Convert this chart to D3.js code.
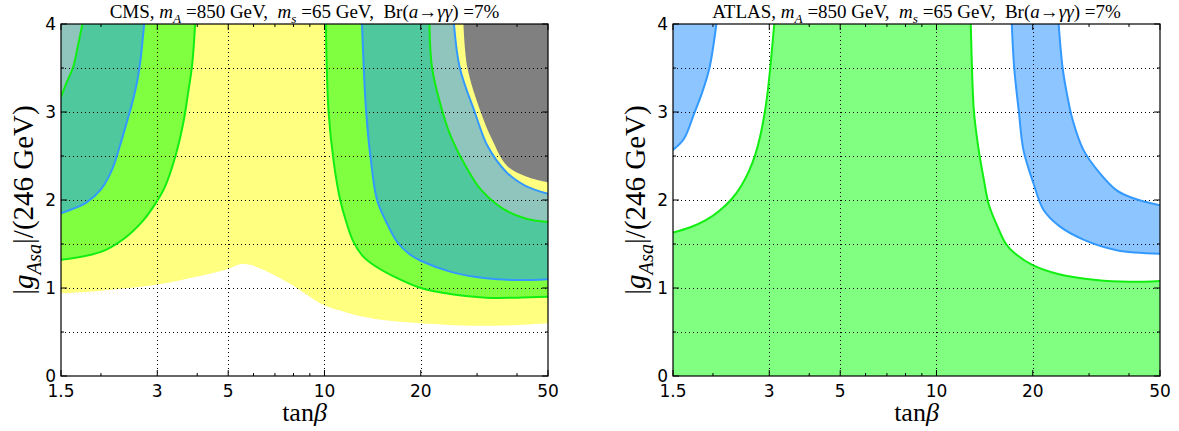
<!DOCTYPE html>
<html>
<head>
<meta charset="utf-8">
<script src="https://cdn.jsdelivr.net/npm/d3@7"></script>
<style>
body { margin: 0; background: #fff; }
svg { display: block; }
text { white-space: pre; }
</style>
</head>
<body>
<svg id="chart" width="1179" height="431"></svg>
<script>
// tick values
var xTicks = [1.5, 3, 5, 10, 20, 50];
var xMinor = [2, 4, 6, 7, 8, 9, 30, 40];
var yTicks = [0, 1, 2, 3, 4];
var yMinor = [0.5, 1.5, 2.5, 3.5];

// CMS panel, points are [tanB, g]
var cmsYellowLow = [[1.5, 0.94], [2, 0.97], [3, 1.04], [4, 1.13], [5, 1.22], [5.45, 1.27], [5.9, 1.26], [6.4, 1.21],
	[7.2, 1.12], [7.95, 1.03], [9, 0.9], [10, 0.8], [11.5, 0.73], [12.6, 0.69], [15, 0.64], [20, 0.6], [30, 0.57], [40, 0.58], [50, 0.6]];
var cmsGreenLeft = [[1.5, 1.32], [2.0, 1.41], [2.36, 1.56], [2.7, 1.76], [2.95, 1.95], [3.17, 2.15], [3.42, 2.5], [3.62, 2.88], [3.74, 3.2], [3.86, 3.55], [3.94, 4]];
var cmsBlueLeft = [[1.5, 1.85], [1.8, 1.97], [2.0, 2.12], [2.17, 2.35], [2.29, 2.61], [2.42, 2.91], [2.52, 3.14], [2.6, 3.36], [2.66, 3.6], [2.73, 4]];
var cmsGreenLeftOuter = [[1.5, 3.17], [1.56, 3.33], [1.64, 3.52], [1.7, 3.78], [1.75, 4]];
var cmsGreenRight = [[10.1, 4], [10.3, 3], [10.7, 2.42], [11.2, 2.0], [11.7, 1.75], [12.3, 1.53], [13.2, 1.36], [14.4, 1.25], [16.5, 1.13], [20, 1.0], [25, 0.93], [32, 0.89], [40, 0.89], [50, 0.9]];
var cmsBlueRight = [[13.1, 4], [13.5, 3], [14.0, 2.42], [14.6, 2.0], [15.6, 1.75], [16.9, 1.52], [18.5, 1.38], [20, 1.31], [25, 1.18], [32, 1.11], [40, 1.09], [50, 1.1]];
var cmsGreenRightOuter = [[21.3, 4], [21.7, 3.5], [23.4, 3], [24.8, 2.73], [27.6, 2.39], [30.8, 2.12], [36.2, 1.9], [42.5, 1.79], [50, 1.75]];
var cmsBlueRightOuter = [[25.4, 4], [26.5, 3.5], [29.5, 3.0], [32.4, 2.61], [37.2, 2.31], [42.5, 2.16], [50, 2.07]];
var cmsGrayEdge = [[27.2, 4], [28, 3.5], [30.8, 3.0], [33.4, 2.69], [37.2, 2.39], [42.5, 2.27], [50, 2.2]];

// ATLAS panel
var atlasGreenLeft = [[1.5, 1.63], [1.7, 1.69], [1.9, 1.77], [2.1, 1.88], [2.3, 2.02], [2.45, 2.16], [2.6, 2.34], [2.72, 2.53], [2.82, 2.75], [2.9, 2.98], [2.97, 3.25], [3.03, 3.55], [3.11, 4]];
var atlasGreenRight = [[12.8, 4], [12.95, 3.36], [13.1, 3.0], [13.5, 2.61], [14.05, 2.24], [14.6, 1.94], [15.6, 1.68], [16.5, 1.5], [17.5, 1.4], [20, 1.26], [24, 1.16], [31.6, 1.09], [40, 1.07], [50, 1.08]];
var atlasBlueLeft = [[1.5, 2.57], [1.62, 2.69], [1.75, 2.99], [1.85, 3.22], [1.95, 3.5], [2.05, 4]];
var atlasBlueOuter = [[17.2, 4], [17.5, 3.5], [18.1, 3.0], [18.7, 2.57], [20.1, 2.19], [21.6, 1.89], [24.3, 1.7], [28.8, 1.55], [36.6, 1.43], [50, 1.39]];
var atlasBlueInner = [[24.1, 4], [24.8, 3.5], [25.6, 3.2], [26.7, 2.9], [28.8, 2.57], [32.5, 2.3], [36.6, 2.11], [41.3, 2.02], [50, 1.94]];

var W = 487, H = 352, TOP = 24;
var green = '#11ee11', blue = '#3399ff';

var svg = d3.select('#chart');
svg.append('rect').attr('width', 1179).attr('height', 431).attr('fill', '#fff');

// text with italic / subscript parts
var richText = function(sel, parts, size)
{
	var shifted = 0;
	parts.forEach((p) => {
		var ts = sel.append('tspan').text(p.t);
		if (p.i) ts.attr('font-style', 'italic');
		var want = p.sub ? size * 0.28 : 0;
		if (want !== shifted) { ts.attr('dy', want - shifted); shifted = want; }
		if (p.sub) ts.attr('font-size', size * 0.7);
	});
	return sel;
};

var drawPanel = function(left, titleParts, build)
{
	var g = svg.append('g').attr('transform', `translate(${left},${TOP})`);
	var x = d3.scaleLog().domain([1.5, 50]).range([0, W]);
	var y = d3.scaleLinear().domain([0, 4]).range([H, 0]);
	var id = 'clip' + left;
	svg.append('clipPath').attr('id', id).append('rect').attr('width', W).attr('height', H);

	var line = d3.line().x((d) => x(d[0])).y((d) => y(d[1])).curve(d3.curveCatmullRom.alpha(0.5));
	var seg = (pts) => line(pts).replace(/^M/, 'L');
	var pt = (a, b) => `L${x(a)},${y(b)}`;
	var start = (a, b) => `M${x(a)},${y(b)}`;

	var plot = g.append('g').attr('clip-path', `url(#${id})`);
	var spec = build({ line, seg, pt, start });

	// fills
	plot.selectAll('path.fill').data(spec.fills).enter().append('path')
		.attr('class', 'fill').attr('d', (d) => d.d).attr('fill', (d) => d.c).attr('stroke', 'none');

	// grid
	var grid = plot.append('g').attr('stroke', '#000').attr('stroke-width', 1).attr('stroke-dasharray', '1,3');
	grid.selectAll('line.v').data([3, 5, 10, 20]).enter().append('line').attr('class', 'v')
		.attr('x1', (d) => Math.round(x(d)) + 0.5).attr('x2', (d) => Math.round(x(d)) + 0.5).attr('y1', 0).attr('y2', H);
	grid.selectAll('line.h').data([0.5, 1, 1.5, 2, 2.5, 3, 3.5]).enter().append('line').attr('class', 'h')
		.attr('y1', (d) => Math.round(y(d)) + 0.5).attr('y2', (d) => Math.round(y(d)) + 0.5).attr('x1', 0).attr('x2', W);

	// contour lines
	plot.selectAll('path.edge').data(spec.lines).enter().append('path')
		.attr('class', 'edge').attr('d', (d) => line(d.p)).attr('fill', 'none')
		.attr('stroke', (d) => d.c).attr('stroke-width', 2);

	// frame + inward ticks on all sides
	g.append('rect').attr('width', W).attr('height', H).attr('fill', 'none').attr('stroke', '#000').attr('stroke-width', 1.2);
	var ticks = g.append('g').attr('stroke', '#000').attr('stroke-width', 1);
	var xt = xTicks.map((v) => [v, 6]).concat(xMinor.map((v) => [v, 3]));
	xt.forEach((t) => {
		ticks.append('line').attr('x1', x(t[0])).attr('x2', x(t[0])).attr('y1', H).attr('y2', H - t[1]);
		ticks.append('line').attr('x1', x(t[0])).attr('x2', x(t[0])).attr('y1', 0).attr('y2', t[1]);
	});
	var yt = yTicks.map((v) => [v, 6]).concat(yMinor.map((v) => [v, 3]));
	yt.forEach((t) => {
		ticks.append('line').attr('y1', y(t[0])).attr('y2', y(t[0])).attr('x1', 0).attr('x2', t[1]);
		ticks.append('line').attr('y1', y(t[0])).attr('y2', y(t[0])).attr('x1', W).attr('x2', W - t[1]);
	});

	// tick labels
	g.selectAll('text.xl').data(xTicks).enter().append('text').attr('class', 'xl')
		.attr('x', (d) => x(d)).attr('y', H + 21).attr('text-anchor', 'middle')
		.attr('font-family', 'DejaVu Sans').attr('font-size', 17).text((d) => d);
	g.selectAll('text.yl').data(yTicks).enter().append('text').attr('class', 'yl')
		.attr('x', -5).attr('y', (d) => y(d)).attr('dy', '0.36em').attr('text-anchor', 'end')
		.attr('font-family', 'DejaVu Sans').attr('font-size', 17).text((d) => d);

	// title and axis labels
	richText(g.append('text').attr('x', W / 2).attr('y', -6).attr('text-anchor', 'middle')
		.attr('font-family', 'Liberation Serif').attr('font-size', 19).attr('xml:space', 'preserve'), titleParts, 19);
	richText(g.append('text').attr('x', W / 2).attr('y', H + 45).attr('text-anchor', 'middle')
		.attr('font-family', 'Liberation Serif').attr('font-size', 26),
		[{ t: 'tan' }, { t: 'β', i: 1 }], 26);
	richText(g.append('text').attr('transform', `translate(-28,${H / 2}) rotate(-90)`).attr('text-anchor', 'middle')
		.attr('font-family', 'Liberation Serif').attr('font-size', 29),
		[{ t: '|' }, { t: 'g', i: 1 }, { t: 'Asa', i: 1, sub: 1 }, { t: '|/(246 GeV)' }], 29);
};

var tail = () => [{ t: ', ' }, { t: 'm', i: 1 }, { t: 'A', i: 1, sub: 1 }, { t: ' =850 GeV,  ' }, { t: 'm', i: 1 }, { t: 's', i: 1, sub: 1 },
	{ t: ' =65 GeV,  Br(' }, { t: 'a', i: 1 }, { t: '→' }, { t: 'γγ', i: 1 }, { t: ') =7%' }];

drawPanel(61, [{ t: 'CMS' }].concat(tail()), (h) => {
	var capL = (pts) => h.line(pts) + h.pt(1.5, 4) + 'Z';
	var capR = (pts) => h.line(pts) + h.pt(50, 4) + 'Z';
	return {
		fills: [
			{ c: '#ffff80', d: h.line(cmsYellowLow) + h.pt(50, 4) + h.pt(1.5, 4) + 'Z' },
			{ c: '#80ff40', d: capL(cmsGreenLeft) },
			{ c: '#80ff40', d: capR(cmsGreenRight) },
			{ c: '#4fc89e', d: capL(cmsBlueLeft) },
			{ c: '#4fc89e', d: capR(cmsBlueRight) },
			{ c: '#8fc5bd', d: capL(cmsGreenLeftOuter) },
			{ c: '#8fc5bd', d: capR(cmsGreenRightOuter) },
			{ c: '#ffff80', d: capR(cmsBlueRightOuter) },
			{ c: '#808080', d: capR(cmsGrayEdge) }
		],
		lines: [
			{ c: green, p: cmsGreenLeft }, { c: green, p: cmsGreenRight },
			{ c: green, p: cmsGreenLeftOuter }, { c: green, p: cmsGreenRightOuter },
			{ c: blue, p: cmsBlueLeft }, { c: blue, p: cmsBlueRight }, { c: blue, p: cmsBlueRightOuter }
		]
	};
});

drawPanel(673, [{ t: 'ATLAS' }].concat(tail()), (h) => {
	return {
		fills: [
			{ c: '#80ff80', d: h.start(1.5, 0) + h.seg(atlasGreenLeft) + h.seg(atlasGreenRight) + h.pt(50, 0) + 'Z' },
			{ c: '#8cc5ff', d: h.line(atlasBlueLeft) + h.pt(1.5, 4) + 'Z' },
			{ c: '#8cc5ff', d: h.line(atlasBlueOuter) + h.seg(atlasBlueInner.slice().reverse()) + 'Z' }
		],
		lines: [
			{ c: green, p: atlasGreenLeft }, { c: green, p: atlasGreenRight },
			{ c: blue, p: atlasBlueLeft }, { c: blue, p: atlasBlueOuter }, { c: blue, p: atlasBlueInner }
		]
	};
});
</script>
</body>
</html>
